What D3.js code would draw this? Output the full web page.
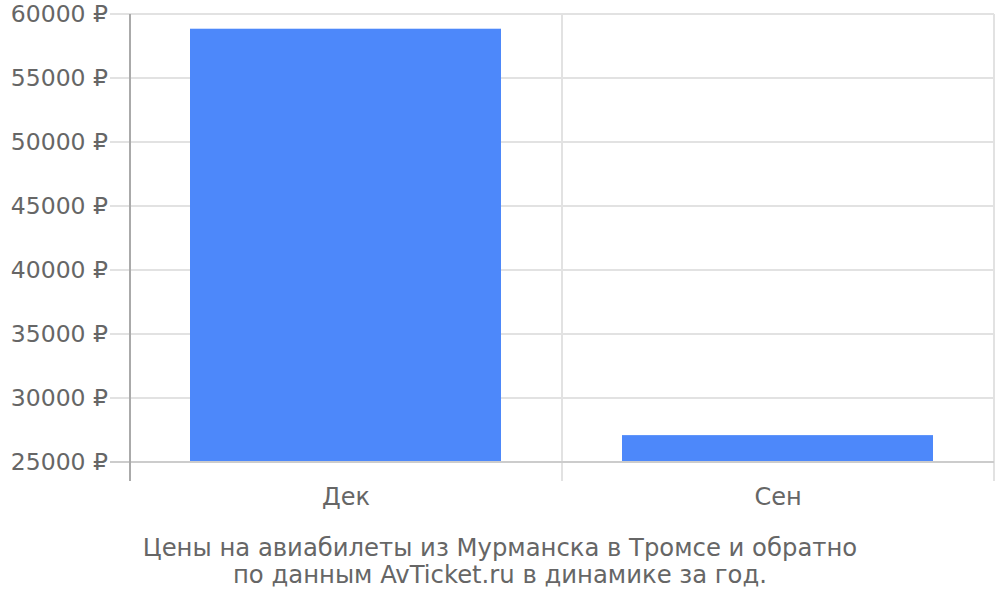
<!DOCTYPE html>
<html>
<head>
<meta charset="utf-8">
<script src="https://cdn.jsdelivr.net/npm/d3@7"></script>
<style>
    body { margin: 0; background: #fff; }
    text { font-family: "DejaVu Sans", sans-serif; fill: #666; }
</style>
</head>
<body>
<div id="chart"></div>
<script>
// data
let categories = ["Дек", "Сен"];
let prices = [58850, 27100];
let yTicks = [25000, 30000, 35000, 40000, 45000, 50000, 55000, 60000];
let titleLines = ["Цены на авиабилеты из Мурманска в Тромсе и обратно", "по данным AvTicket.ru в динамике за год."];

let margin = {top: 14, right: 6, bottom: 138, left: 130};
let width = 1000 - margin.left - margin.right;
let height = 600 - margin.top - margin.bottom;

let svg = d3.select("#chart").append("svg")
    .attr("width", 1000)
    .attr("height", 600)
    .append("g")
    .attr("transform", `translate(${margin.left}, ${margin.top})`);

let x = d3.scaleBand()
    .domain(categories)
    .range([0, width])
    .paddingInner(0)
    .paddingOuter(0);

let y = d3.scaleLinear()
    .domain([25000, 60000])
    .range([height, 0]);

// horizontal grid + tick stubs
svg.selectAll(".hgrid")
    .data(yTicks.filter(d => d !== 25000))
    .enter().append("line")
    .attr("class", "hgrid")
    .attr("x1", -20)
    .attr("x2", width)
    .attr("y1", d => y(d))
    .attr("y2", d => y(d))
    .attr("stroke", "#e2e2e2")
    .attr("stroke-width", 2);

// vertical grid at band edges
let edges = categories.map(c => x(c) + x.bandwidth());
svg.selectAll(".vgrid")
    .data(edges)
    .enter().append("line")
    .attr("class", "vgrid")
    .attr("x1", d => d)
    .attr("x2", d => d)
    .attr("y1", 0)
    .attr("y2", height + 19)
    .attr("stroke", "#e2e2e2")
    .attr("stroke-width", 2);

// bars
let barPad = 60;
svg.selectAll(".bar")
    .data(prices)
    .enter().append("rect")
    .attr("class", "bar")
    .attr("x", (d, i) => x(categories[i]) + barPad)
    .attr("width", x.bandwidth() - 2 * barPad - 1)
    .attr("y", d => y(d))
    .attr("height", d => height - y(d))
    .attr("fill", "#4d88fa");

// baseline
svg.append("line")
    .attr("x1", -20)
    .attr("x2", width)
    .attr("y1", y(25000))
    .attr("y2", y(25000))
    .attr("stroke", "#cccccc")
    .attr("stroke-width", 2);

// left axis line
svg.append("line")
    .attr("x1", 0)
    .attr("x2", 0)
    .attr("y1", 0)
    .attr("y2", height + 19)
    .attr("stroke", "#aaaaaa")
    .attr("stroke-width", 2);

// y labels
svg.selectAll(".ylabel")
    .data(yTicks)
    .enter().append("text")
    .attr("class", "ylabel")
    .attr("x", -22)
    .attr("y", d => y(d))
    .attr("dy", "0.36em")
    .attr("text-anchor", "end")
    .style("font-size", "23.5px")
    .text(d => d + " ₽");

// x labels
svg.selectAll(".xlabel")
    .data(categories)
    .enter().append("text")
    .attr("class", "xlabel")
    .attr("x", d => x(d) + x.bandwidth() / 2)
    .attr("y", height + 43)
    .attr("text-anchor", "middle")
    .style("font-size", "24px")
    .text(d => d);

// title under the chart
svg.selectAll(".title")
    .data(titleLines)
    .enter().append("text")
    .attr("class", "title")
    .attr("x", 500 - margin.left)
    .attr("y", (d, i) => height + 94 + i * 27)
    .attr("text-anchor", "middle")
    .style("font-size", "24.3px")
    .text(d => d);
</script>
</body>
</html>
